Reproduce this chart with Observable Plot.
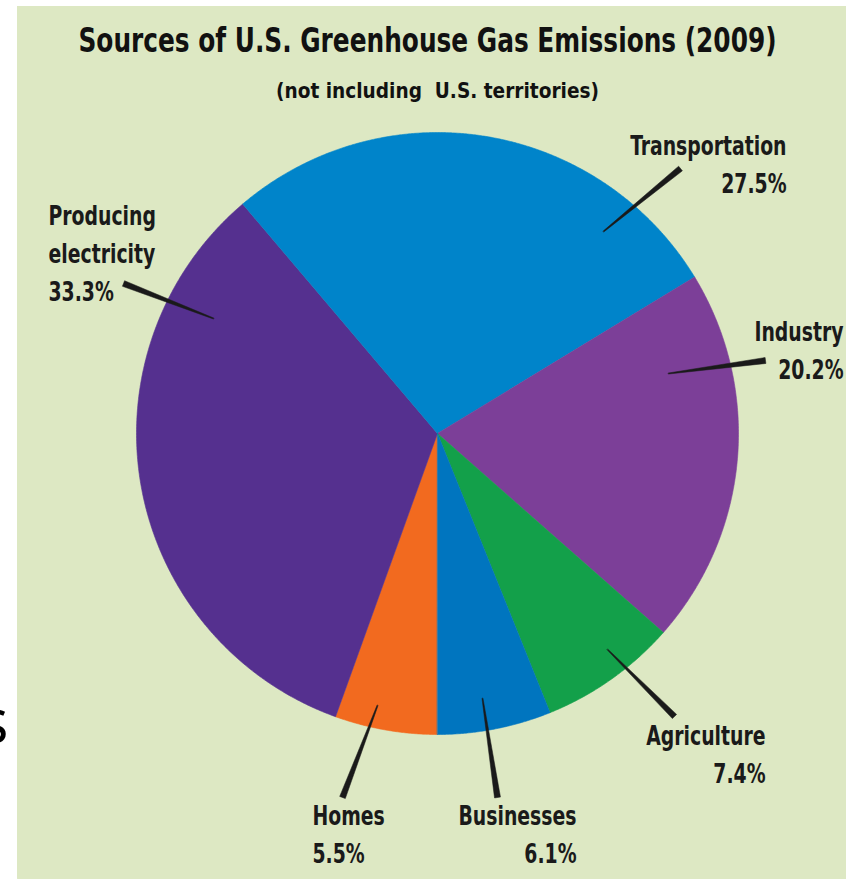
<!DOCTYPE html>
<html>
<head>
<meta charset="utf-8">
<script src="https://cdn.jsdelivr.net/npm/d3@7"></script>
<script src="https://cdn.jsdelivr.net/npm/@observablehq/plot@0.6"></script>
<style>
  html, body { margin: 0; padding: 0; background: #ffffff; }
  #wrap { position: relative; width: 846px; height: 879px; overflow: hidden; }
  #bg { position: absolute; left: 17px; top: 6px; width: 860px; height: 885px;
        background: #dde8c3; border-bottom-left-radius: 14px; }
  #chart { position: absolute; left: 0; top: 0; }
</style>
</head>
<body>
<div id="wrap"><div id="bg"></div><div id="chart"></div></div>
<script>
// ---- data ----
const categories = ["Homes", "Producing electricity", "Transportation", "Industry", "Agriculture", "Businesses"];
const labelLines = [["Homes"], ["Producing", "electricity"], ["Transportation"], ["Industry"], ["Agriculture"], ["Businesses"]];
const shares = [5.5, 33.3, 27.5, 20.2, 7.4, 6.1];
const shareLabels = ["5.5%", "33.3%", "27.5%", "20.2%", "7.4%", "6.1%"];
const colors = ["#f26a1f", "#55308f", "#0084ca", "#7c3f98", "#13a04a", "#0075bf"];
const title = "Sources of U.S. Greenhouse Gas Emissions (2009)";
const subtitle = "(not including  U.S. territories)";

// ---- layout (pixels) ----
const W = 846, H = 879, CX = 437, CY = 433, R = 301, LINE = 38;
const labelLayout = {
  "Homes":                 {x: 312, y: 862, anchor: "start"},
  "Producing electricity": {x: 48,  y: 300, anchor: "start"},
  "Transportation":        {x: 786, y: 192, anchor: "end"},
  "Industry":              {x: 843, y: 378, anchor: "end"},
  "Agriculture":           {x: 765, y: 782, anchor: "end"},
  "Businesses":            {x: 576, y: 862, anchor: "end"}
};
const leaderLayout = {
  "Homes":                 {a: [377, 705], b: [342, 797]},
  "Producing electricity": {a: [213, 318], b: [123, 283]},
  "Transportation":        {a: [603, 231], b: [680, 168]},
  "Industry":              {a: [668, 373], b: [765, 360]},
  "Agriculture":           {a: [607, 649], b: [674, 716]},
  "Businesses":            {a: [482, 698], b: [497, 797]}
};
const px = v => v - CX, py = v => v - CY;

const pie = d3.pie().sort(null).startAngle(Math.PI).endAngle(3 * Math.PI);
const arcs = pie(shares);

const slicePts = arcs.map((a, i) => {
  const pts = [{x: 0, y: 0}];
  const n = Math.max(8, Math.ceil((a.endAngle - a.startAngle) / 0.005));
  for (let k = 0; k <= n; k++) {
    const t = a.startAngle + (a.endAngle - a.startAngle) * k / n;
    pts.push({x: R * Math.sin(t), y: -R * Math.cos(t)});
  }
  return pts;
});

const wedge = (L, hw) => {
  const [ax, ay] = L.a, [bx, by] = L.b;
  const dx = bx - ax, dy = by - ay, len = Math.hypot(dx, dy);
  const nx = -dy / len, ny = dx / len;
  return [
    {x: px(ax + nx * 0.5), y: py(ay + ny * 0.5)},
    {x: px(bx + nx * hw), y: py(by + ny * hw)},
    {x: px(bx - nx * hw), y: py(by - ny * hw)},
    {x: px(ax - nx * 0.5), y: py(ay - ny * 0.5)}
  ];
};

// one text row per line
const labelRows = [];
categories.forEach((c, i) => {
  const L = labelLayout[c];
  const lines = [...labelLines[i], shareLabels[i]];
  lines.forEach((t, k) => {
    labelRows.push({x: px(L.x), y: py(L.y - (lines.length - 1 - k) * LINE), anchor: L.anchor, text: t});
  });
});

const FONT = "'DejaVu Sans Condensed', 'DejaVu Sans', sans-serif";

const marks = [];
slicePts.forEach((pts, i) => {
  marks.push(Plot.line(pts, {x: "x", y: "y", curve: "linear-closed",
    fill: colors[i], stroke: colors[i], strokeWidth: 0.6}));
});
categories.forEach(c => {
  marks.push(Plot.line(wedge(leaderLayout[c], 3), {x: "x", y: "y", curve: "linear-closed",
    fill: "#1a1a1a", stroke: "#1a1a1a", strokeWidth: 0.5}));
});
["start", "end"].forEach(anc => {
  marks.push(Plot.text(labelRows.filter(d => d.anchor === anc), {
    x: "x", y: "y", text: "text", textAnchor: anc, lineAnchor: "bottom",
    fontSize: 27, fontWeight: "bold", fontFamily: FONT, fill: "#1a1a1a",
    className: "cond-label"
  }));
});
marks.push(Plot.text([{x: px(427), y: py(51), t: title}], {
  x: "x", y: "y", text: "t", lineAnchor: "bottom", fontSize: 34, fontWeight: "bold",
  fontFamily: FONT, fill: "#111111", className: "cond-title"
}));
marks.push(Plot.text([{x: px(437), y: py(97), t: subtitle}], {
  x: "x", y: "y", text: "t", lineAnchor: "bottom", fontSize: 22, fontWeight: "bold",
  fontFamily: FONT, fill: "#111111", className: "cond-sub"
}));
marks.push(Plot.text([{x: px(8), y: py(742), t: "s"}], {
  x: "x", y: "y", text: "t", textAnchor: "end", lineAnchor: "bottom", fontSize: 62,
  fontFamily: "'Open Sans', sans-serif", fill: "#000000"
}));

const chart = Plot.plot({
  width: W, height: H, margin: 0,
  x: {domain: [px(0), px(W)], range: [0, W], axis: null},
  y: {domain: [py(0), py(H)], range: [0, H], axis: null},
  style: {background: "transparent", overflow: "visible"},
  marks
});
document.getElementById("chart").appendChild(chart);

// condense text horizontally to mimic a condensed typeface
const condense = (cls, fn) => {
  chart.querySelectorAll("g." + cls + " text").forEach(t => {
    const w = t.getComputedTextLength();
    t.setAttribute("textLength", fn(w));
    t.setAttribute("lengthAdjust", "spacingAndGlyphs");
  });
};
condense("cond-label", w => w * 0.775);
condense("cond-title", w => 698);
condense("cond-sub", w => 323);
</script>
</body>
</html>
